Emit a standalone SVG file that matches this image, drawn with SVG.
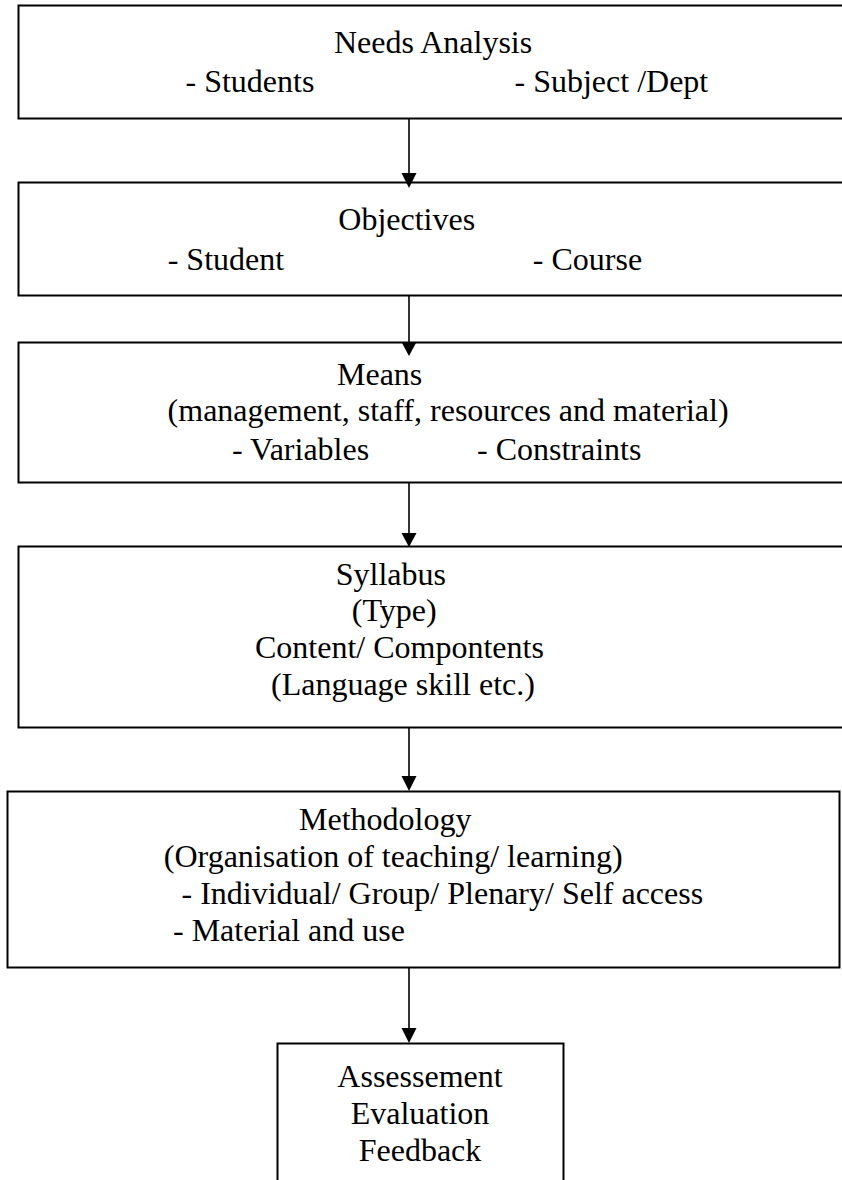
<svg xmlns="http://www.w3.org/2000/svg" width="842" height="1180" viewBox="0 0 842 1180">
<style>
.box{fill:none;stroke:#000;stroke-width:2}
.t{font-family:"Liberation Serif","Times New Roman",serif;font-size:32px;fill:#000}
.c{text-anchor:middle}
.conn line{stroke:#000;stroke-width:1.6}
.conn polygon{fill:#000;stroke:none}
</style>
<rect x="0" y="0" width="842" height="1180" fill="#fff"/>
<g id="needs-analysis">
<rect class="box" x="18.5" y="5.5" width="840" height="113"/>
<text class="t" x="334" y="53">Needs Analysis</text>
<text class="t" x="185.5" y="91.5">- Students</text>
<text class="t" x="514.5" y="91.5">- Subject /Dept</text>
</g>
<g id="objectives">
<rect class="box" x="18.5" y="182.5" width="840" height="113"/>
<text class="t" x="338.3" y="230">Objectives</text>
<text class="t" x="167.7" y="269.5">- Student</text>
<text class="t" x="532.8" y="269.5">- Course</text>
</g>
<g id="means">
<rect class="box" x="18.5" y="342.5" width="840" height="140"/>
<text class="t" x="337" y="385">Means</text>
<text class="t" x="167.6" y="420.5">(management, staff, resources and material)</text>
<text class="t" x="232" y="459.5">- Variables</text>
<text class="t" x="477" y="459.5">- Constraints</text>
</g>
<g id="syllabus">
<rect class="box" x="18.5" y="546.5" width="840" height="181"/>
<text class="t" x="335.7" y="585">Syllabus</text>
<text class="t" x="351.8" y="621">(Type)</text>
<text class="t" x="255" y="658">Content/ Compontents</text>
<text class="t" x="271" y="695">(Language skill etc.)</text>
</g>
<g id="methodology">
<rect class="box" x="7.5" y="791.5" width="832" height="176"/>
<text class="t" x="299" y="830">Methodology</text>
<text class="t" x="163.8" y="867">(Organisation of teaching/ learning)</text>
<text class="t" x="181.5" y="904">- Individual/ Group/ Plenary/ Self access</text>
<text class="t" x="173" y="941">- Material and use</text>
</g>
<g id="assessment">
<rect class="box" x="277.5" y="1043.5" width="286" height="200"/>
<text class="t c" x="420" y="1086.5">Assessement</text>
<text class="t c" x="420" y="1123.5">Evaluation</text>
<text class="t c" x="420" y="1160.5">Feedback</text>
</g>
<g id="connectors" class="conn">
<line x1="409" y1="118.5" x2="409" y2="174"/>
<polygon points="401.5,173 416.5,173 409,188"/>
<line x1="409" y1="295.5" x2="409" y2="343"/>
<polygon points="401.5,342 416.5,342 409,356"/>
<line x1="409" y1="482.5" x2="409" y2="534"/>
<polygon points="401.5,533 416.5,533 409,547"/>
<line x1="409" y1="727.5" x2="409" y2="777"/>
<polygon points="401.5,776 416.5,776 409,791"/>
<line x1="409" y1="967.5" x2="409" y2="1029"/>
<polygon points="401.5,1028 416.5,1028 409,1043"/>
</g>
</svg>
